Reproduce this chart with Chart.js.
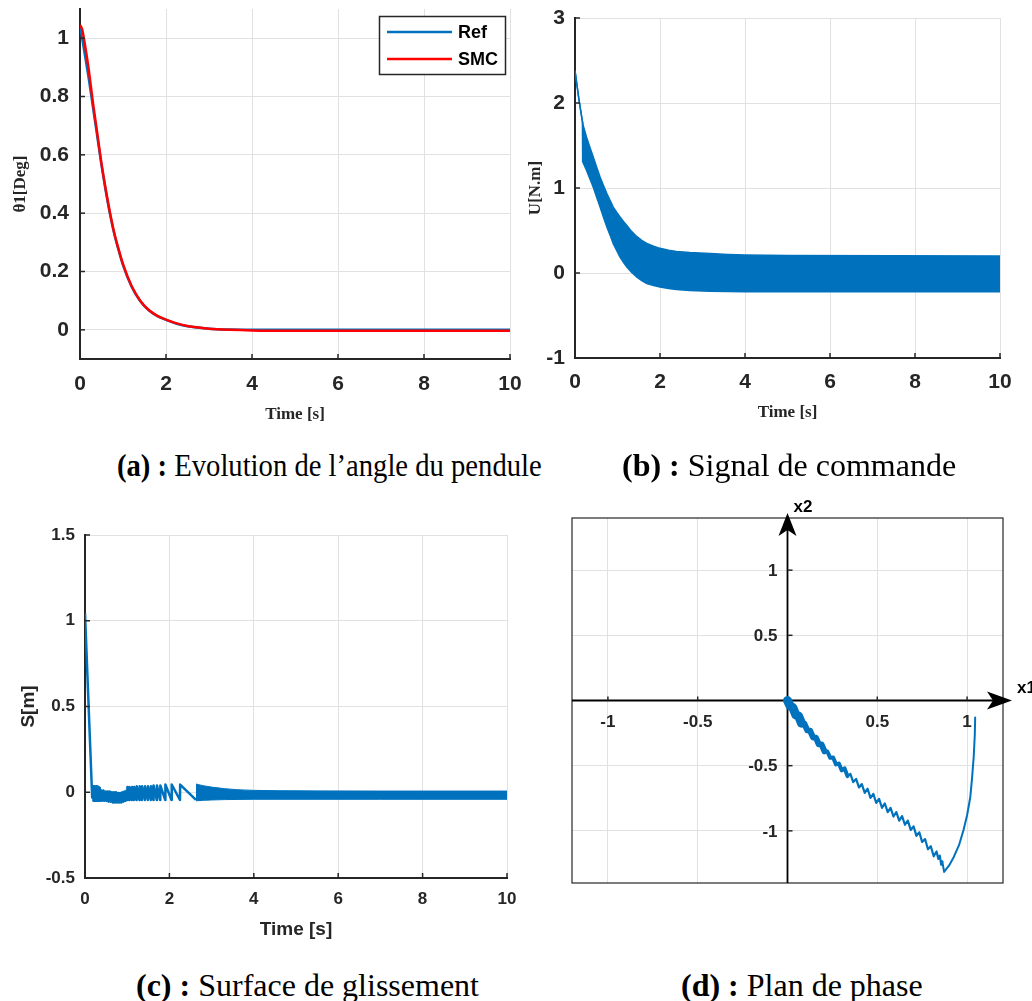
<!DOCTYPE html>
<html>
<head>
<meta charset="utf-8">
<script src="https://cdn.jsdelivr.net/npm/chart.js@4.4.1/dist/chart.umd.min.js"></script>
<style>
html,body{margin:0;padding:0;background:#fff;}
#wrap{position:relative;width:1032px;height:1001px;overflow:hidden;background:#fff;}
canvas{position:absolute;}
.cap{position:absolute;font-family:"Liberation Serif","Times New Roman",serif;font-size:32px;line-height:32px;color:#000;white-space:nowrap;transform-origin:left center;}
.cap b{font-weight:bold;}
</style>
</head>
<body>
<div id="wrap">
<canvas id="ca" width="524" height="435" style="left:0;top:0"></canvas>
<canvas id="cb" width="512" height="435" style="left:520px;top:0"></canvas>
<canvas id="cc" width="524" height="450" style="left:0;top:500px"></canvas>
<canvas id="cd" width="512" height="410" style="left:520px;top:490px"></canvas>
<div class="cap" style="left:117px;top:449px;transform:scaleX(0.895)"><b>(a) :</b> Evolution de l’angle du pendule</div>
<div class="cap" style="left:622px;top:449px"><b>(b) :</b> Signal de commande</div>
<div class="cap" style="left:136px;top:969px"><b>(c) :</b> Surface de glissement</div>
<div class="cap" style="left:681px;top:969px"><b>(d) :</b> Plan de phase</div>
</div>
<script>
// ---------- data ----------
const timeTicks = [0, 2, 4, 6, 8, 10];
const seriesNames = ['Ref', 'SMC'];

// (a) pendulum angle
const thetaTime = [0, 0.05, 0.1, 0.15, 0.2, 0.3, 0.4, 0.5, 0.6, 0.7, 0.8, 0.9, 1.0, 1.2, 1.4, 1.6, 1.8, 2.0, 2.25, 2.5, 3.0, 3.5, 4, 5, 6, 7, 8, 9, 10];
const thetaRef = [1.045, 1.0, 0.955, 0.91, 0.865, 0.765, 0.665, 0.565, 0.475, 0.395, 0.327, 0.272, 0.222, 0.148, 0.099, 0.067, 0.047, 0.034, 0.021, 0.012, 0.004, 0.001, 0, 0, 0, 0, 0, 0, 0];
const thetaSMC = [1.045, 1.03, 0.99, 0.945, 0.895, 0.78, 0.675, 0.57, 0.48, 0.40, 0.33, 0.275, 0.225, 0.15, 0.10, 0.068, 0.048, 0.035, 0.022, 0.013, 0.004, 0.0, -0.002, -0.003, -0.003, -0.003, -0.003, -0.003, -0.003];
const thetaTicks = [0, 0.2, 0.4, 0.6, 0.8, 1];

// (b) control signal (envelope of the chattering band)
const uTime  = [0, 0.09, 0.175, 0.18, 0.27, 0.35, 0.43, 0.51, 0.59, 0.67, 0.75, 0.83, 0.9, 0.98, 1.06, 1.14, 1.22, 1.33, 1.45, 1.57, 1.69, 1.85, 2.0, 2.2, 2.39, 2.7, 3.18, 3.6, 4.0, 5, 10];
const uUpper = [2.38, 2.05, 1.78, 1.76, 1.6, 1.48, 1.365, 1.245, 1.13, 1.03, 0.934, 0.85, 0.776, 0.715, 0.659, 0.607, 0.56, 0.49, 0.43, 0.383, 0.348, 0.315, 0.29, 0.268, 0.253, 0.24, 0.228, 0.218, 0.212, 0.205, 0.2];
const uLower = [2.38, 2.05, 1.78, 1.31, 1.208, 1.11, 1.01, 0.89, 0.776, 0.655, 0.54, 0.44, 0.346, 0.265, 0.188, 0.125, 0.07, 0.01, -0.047, -0.09, -0.125, -0.148, -0.165, -0.182, -0.195, -0.205, -0.215, -0.218, -0.22, -0.222, -0.222];
const uTicks = [-1, 0, 1, 2, 3];

// (c) sliding surface
const sTime = [0, 0.17, 0.19, 0.2, 0.23, 0.24, 0.27, 0.28, 0.31, 0.32, 0.35, 0.36, 0.385, 0.41, 0.435, 0.46, 0.485, 0.51, 0.535, 0.56, 0.585, 0.61, 0.635, 0.66, 0.685, 0.71, 0.735, 0.76, 0.785, 0.81, 0.835, 0.86, 0.885, 0.91, 0.935, 0.96, 0.985, 1.0, 1.005, 1.05, 1.055, 1.11, 1.115, 1.16, 1.165, 1.22, 1.225, 1.29, 1.295, 1.35, 1.355, 1.42, 1.425, 1.49, 1.495, 1.56, 1.565, 1.62, 1.625, 1.7, 1.705, 1.78, 1.785, 1.9, 1.905, 2.05, 2.055, 2.25, 2.255, 2.63];
const sValue = [1.045, -0.03, 0.035, -0.05, 0.035, -0.05, 0.035, -0.05, 0.03, -0.05, 0.025, -0.05, 0.01, -0.05, 0.01, -0.05, 0.005, -0.05, 0.005, -0.055, 0.005, -0.055, 0.0, -0.06, 0.0, -0.06, 0.0, -0.06, -0.005, -0.06, -0.005, -0.06, 0.0, -0.055, 0.005, -0.05, 0.01, -0.045, 0.03, -0.045, 0.03, -0.045, 0.03, -0.045, 0.03, -0.045, 0.035, -0.045, 0.035, -0.045, 0.035, -0.045, 0.035, -0.045, 0.035, -0.045, 0.035, -0.045, 0.04, -0.045, 0.04, -0.045, 0.04, -0.045, 0.045, -0.045, 0.045, -0.045, 0.045, -0.045];
const sBandTime  = [2.63, 2.8, 3.0, 3.3, 3.6, 4.0, 4.6, 5.5, 7, 10];
const sBandUpper = [0.048, 0.038, 0.03, 0.021, 0.015, 0.011, 0.009, 0.008, 0.007, 0.007];
const sBandLower = [-0.05, -0.047, -0.045, -0.043, -0.042, -0.041, -0.041, -0.041, -0.041, -0.041];
const sTicks = [-0.5, 0, 0.5, 1, 1.5];

// (d) phase plane
const phaseX1 = [1.045, 1.043, 1.037, 1.028, 1.018, 1.0, 0.981, 0.955, 0.926, 0.9, 0.872,
  0.862, 0.856, 0.848, 0.840, 0.83, 0.814, 0.798, 0.782, 0.766, 0.75, 0.734, 0.718, 0.702, 0.686, 0.67, 0.654, 0.638, 0.622, 0.606, 0.59,
  0.574, 0.558, 0.542, 0.526, 0.51, 0.494, 0.478, 0.462, 0.446, 0.43, 0.414, 0.398, 0.382, 0.366, 0.35, 0.334, 0.318, 0.302,
  0.286, 0.27, 0.254, 0.238, 0.222, 0.206, 0.19, 0.174, 0.158, 0.142, 0.126, 0.11, 0.094, 0.078, 0.062, 0.046, 0.03, 0.014, 0];
const phaseX2 = [-0.13, -0.26, -0.43, -0.59, -0.74, -0.88, -0.99, -1.11, -1.2, -1.265, -1.315,
  -1.235, -1.26, -1.19, -1.215, -1.158, -1.195, -1.118, -1.141, -1.063, -1.086, -1.011, -1.038, -0.966, -0.993, -0.921, -0.953, -0.887, -0.921, -0.856, -0.89,
  -0.823, -0.857, -0.79, -0.823, -0.755, -0.786, -0.716, -0.747, -0.677, -0.708, -0.641, -0.667, -0.602, -0.626, -0.563, -0.58, -0.521, -0.536,
  -0.484, -0.49, -0.437, -0.44, -0.391, -0.39, -0.338, -0.336, -0.285, -0.283, -0.232, -0.228, -0.178, -0.174, -0.12, -0.11, -0.055, -0.04, 0];
const phaseTicks = [-1, -0.5, 0, 0.5, 1];
const phaseAxisNames = ['x1', 'x2'];

// axis ranges
const timeRange = [0, 10];
const thetaRange = [-0.1, 1.1];
const uRange = [-1, 3];
const sRange = [-0.5, 1.5];
const x1Range = [-1.2, 1.2];
const x2Range = [-1.4, 1.4];

// ---------- styling ----------
const blue = '#0072BD';
const red = '#FF0000';
const axisColor = '#262626';
const gridColor = '#e1e1e1';
const sans = '"Liberation Sans", Arial, sans-serif';
const serif = '"Liberation Serif", "Times New Roman", serif';
Chart.defaults.font.family = sans;

const pts = (xs, ys) => xs.map((x, i) => ({x: x, y: ys[i]}));

function cartScale(o) {
  return {
    type: 'linear', min: o.range[0], max: o.range[1],
    afterBuildTicks: s => { s.ticks = o.ticks.map(v => ({value: v})); },
    afterFit: s => {
      if (o.isX) s.height = o.size; else s.width = o.size;
      s.paddingLeft = 0; s.paddingRight = 0; s.paddingTop = 0; s.paddingBottom = 0;
    },
    grid: {color: gridColor, lineWidth: 1, drawTicks: false},
    border: {display: true, color: axisColor, width: 2},
    ticks: {autoSkip: false, maxRotation: 0, padding: o.tickPad, color: axisColor,
      font: o.tickFont, callback: v => String(v)},
    title: {display: true, text: o.title, color: axisColor, font: o.titleFont, padding: o.titlePad}
  };
}

const inwardTicks = {
  id: 'inwardTicks',
  afterDraw(chart) {
    const {ctx, chartArea: a} = chart;
    const x = chart.scales.x, y = chart.scales.y;
    ctx.save();
    ctx.strokeStyle = axisColor; ctx.lineWidth = 1.5;
    x.ticks.forEach(t => { const p = x.getPixelForValue(t.value); ctx.beginPath(); ctx.moveTo(p, a.bottom); ctx.lineTo(p, a.bottom - 5); ctx.stroke(); });
    y.ticks.forEach(t => { const p = y.getPixelForValue(t.value); ctx.beginPath(); ctx.moveTo(a.left, p); ctx.lineTo(a.left + 5, p); ctx.stroke(); });
    ctx.restore();
  }
};

const legendA = {
  id: 'legendA',
  afterDraw(chart) {
    const ctx = chart.ctx, a = chart.chartArea;
    const bx = a.right - 131, by = a.top + 7, bw = 127, bh = 59;
    ctx.save();
    ctx.fillStyle = '#fff'; ctx.fillRect(bx, by, bw, bh);
    ctx.strokeStyle = axisColor; ctx.lineWidth = 1.5; ctx.strokeRect(bx + 0.5, by + 0.5, bw - 1, bh - 1);
    chart.data.datasets.forEach((ds, i) => {
      const yy = by + 16 + i * 27;
      ctx.strokeStyle = ds.borderColor; ctx.lineWidth = 2.5;
      ctx.beginPath(); ctx.moveTo(bx + 8, yy); ctx.lineTo(bx + 73, yy); ctx.stroke();
      ctx.fillStyle = '#000'; ctx.font = 'bold 18px ' + sans; ctx.textBaseline = 'middle'; ctx.textAlign = 'left';
      ctx.fillText(ds.label, bx + 79, yy + 1);
    });
    ctx.restore();
  }
};

const baseOpts = {responsive: false, animation: false, devicePixelRatio: 1, events: [],
  plugins: {legend: {display: false}, tooltip: {enabled: false}}};

// ---------- (a) ----------
new Chart(document.getElementById('ca'), {
  type: 'line',
  data: {datasets: [
    {label: seriesNames[0], data: pts(thetaTime, thetaRef), borderColor: blue, borderWidth: 2.5, pointRadius: 0, fill: false, cubicInterpolationMode: 'monotone', order: 2},
    {label: seriesNames[1], data: pts(thetaTime, thetaSMC), borderColor: red, borderWidth: 2.5, pointRadius: 0, fill: false, cubicInterpolationMode: 'monotone', order: 1}
  ]},
  options: Object.assign({}, baseOpts, {
    layout: {padding: {left: 0, top: 9, right: 14, bottom: 0}},
    scales: {
      x: cartScale({range: timeRange, ticks: timeTicks, isX: true, size: 76, tickPad: 13,
        tickFont: {family: sans, size: 21, weight: 'bold'}, title: 'Time [s]',
        titleFont: {family: serif, size: 17, weight: 'bold'}, titlePad: {top: 0, bottom: 10}}),
      y: cartScale({range: thetaRange, ticks: thetaTicks, isX: false, size: 80, tickPad: 11,
        tickFont: {family: sans, size: 21, weight: 'bold'}, title: 'θ1[Deg]',
        titleFont: {family: serif, size: 17, weight: 'bold'}, titlePad: {top: 10, bottom: 0}})
    }
  }),
  plugins: [inwardTicks, legendA]
});

// ---------- (b) ----------
new Chart(document.getElementById('cb'), {
  type: 'line',
  data: {datasets: [
    {label: 'U+', data: pts(uTime, uUpper), borderColor: blue, borderWidth: 1.5, pointRadius: 0, fill: false, tension: 0},
    {label: 'U-', data: pts(uTime, uLower), borderColor: blue, borderWidth: 1.5, pointRadius: 0, fill: '-1', backgroundColor: blue, tension: 0}
  ]},
  options: Object.assign({}, baseOpts, {
    layout: {padding: {left: 0, top: 18, right: 32, bottom: 0}},
    scales: {
      x: cartScale({range: timeRange, ticks: timeTicks, isX: true, size: 77, tickPad: 12,
        tickFont: {family: sans, size: 21, weight: 'bold'}, title: 'Time [s]',
        titleFont: {family: serif, size: 17, weight: 'bold'}, titlePad: {top: 0, bottom: 12}}),
      y: cartScale({range: uRange, ticks: uTicks, isX: false, size: 55, tickPad: 10,
        tickFont: {family: sans, size: 21, weight: 'bold'}, title: 'U[N.m]',
        titleFont: {family: serif, size: 17, weight: 'bold'}, titlePad: {top: 5, bottom: 0}})
    }
  }),
  plugins: [inwardTicks]
});

// ---------- (c) ----------
new Chart(document.getElementById('cc'), {
  type: 'line',
  data: {datasets: [
    {label: 'S', data: pts(sTime, sValue), borderColor: blue, borderWidth: 2.5, borderJoinStyle: 'round', pointRadius: 0, fill: false, tension: 0},
    {label: 'S+', data: pts(sBandTime, sBandUpper), borderColor: blue, borderWidth: 1, pointRadius: 0, fill: false, cubicInterpolationMode: 'monotone'},
    {label: 'S-', data: pts(sBandTime, sBandLower), borderColor: blue, borderWidth: 1, pointRadius: 0, fill: '-1', backgroundColor: blue, cubicInterpolationMode: 'monotone'}
  ]},
  options: Object.assign({}, baseOpts, {
    layout: {padding: {left: 0, top: 35, right: 17, bottom: 0}},
    scales: {
      x: cartScale({range: timeRange, ticks: timeTicks, isX: true, size: 72, tickPad: 11,
        tickFont: {family: sans, size: 17, weight: 'bold'}, title: 'Time [s]',
        titleFont: {family: sans, size: 19, weight: 'bold'}, titlePad: {top: 0, bottom: 9}}),
      y: cartScale({range: sRange, ticks: sTicks, isX: false, size: 85, tickPad: 10,
        tickFont: {family: sans, size: 17, weight: 'bold'}, title: 'S[m]',
        titleFont: {family: sans, size: 19, weight: 'bold'}, titlePad: {top: 17, bottom: 0}})
    }
  }),
  plugins: [inwardTicks]
});

// ---------- (d) ----------
const phaseAxes = {
  id: 'phaseAxes',
  beforeDatasetsDraw(chart) {
    const ctx = chart.ctx, a = chart.chartArea;
    const xs = chart.scales.x, ys = chart.scales.y;
    const x0 = xs.getPixelForValue(0), y0 = ys.getPixelForValue(0);
    ctx.save();
    ctx.strokeStyle = axisColor; ctx.lineWidth = 1.2;
    ctx.strokeRect(a.left, a.top, a.right - a.left, a.bottom - a.top);
    ctx.strokeStyle = '#000'; ctx.lineWidth = 1.8;
    ctx.beginPath(); ctx.moveTo(a.left, y0); ctx.lineTo(a.right + 2, y0); ctx.stroke();
    ctx.beginPath(); ctx.moveTo(x0, a.bottom); ctx.lineTo(x0, a.top + 6); ctx.stroke();
    ctx.fillStyle = '#000';
    const tx = a.right + 9;
    ctx.beginPath(); ctx.moveTo(tx, y0); ctx.lineTo(tx - 25, y0 - 9); ctx.lineTo(tx - 19, y0); ctx.lineTo(tx - 25, y0 + 9); ctx.closePath(); ctx.fill();
    const ty = a.top - 5;
    ctx.beginPath(); ctx.moveTo(x0, ty); ctx.lineTo(x0 - 9, ty + 23); ctx.lineTo(x0, ty + 17); ctx.lineTo(x0 + 9, ty + 23); ctx.closePath(); ctx.fill();
    ctx.strokeStyle = axisColor; ctx.lineWidth = 1.5;
    xs.ticks.forEach(t => { if (t.value === 0) return; const p = xs.getPixelForValue(t.value); ctx.beginPath(); ctx.moveTo(p, y0); ctx.lineTo(p, y0 - 4); ctx.stroke(); });
    ys.ticks.forEach(t => { if (t.value === 0) return; const p = ys.getPixelForValue(t.value); ctx.beginPath(); ctx.moveTo(x0, p); ctx.lineTo(x0 + 5, p); ctx.stroke(); });
    ctx.fillStyle = axisColor; ctx.font = 'bold 17px ' + sans;
    ctx.textAlign = 'center'; ctx.textBaseline = 'middle';
    xs.ticks.forEach(t => { if (t.value === 0) return; ctx.fillText(String(t.value), xs.getPixelForValue(t.value), y0 + 22); });
    ctx.textAlign = 'right';
    ys.ticks.forEach(t => { if (t.value === 0) return; ctx.fillText(String(t.value), x0 - 10, ys.getPixelForValue(t.value) + 1); });
    ctx.fillStyle = '#000'; ctx.textAlign = 'left';
    ctx.fillText(phaseAxisNames[0], a.right + 14, y0 - 12);
    ctx.fillText(phaseAxisNames[1], x0 + 6, a.top - 11);
    ctx.restore();
  }
};

const phaseWidth = ctx => {
  const m = Math.min(ctx.p0.parsed.x, ctx.p1.parsed.x);
  if (ctx.p0DataIndex < 11) return 2;
  if (m < 0.07) return 9;
  if (m < 0.2) return 6;
  if (m < 0.33) return 4;
  return 2.2;
};

new Chart(document.getElementById('cd'), {
  type: 'scatter',
  data: {datasets: [
    {label: 'phase', data: pts(phaseX1, phaseX2), showLine: true, borderColor: blue, borderWidth: 2,
     borderJoinStyle: 'round', borderCapStyle: 'round', pointRadius: 0, fill: false, tension: 0,
     segment: {borderWidth: phaseWidth}}
  ]},
  options: Object.assign({}, baseOpts, {
    layout: {padding: {left: 52, top: 28, right: 29, bottom: 17}},
    scales: {
      x: {type: 'linear', min: x1Range[0], max: x1Range[1],
        afterBuildTicks: s => { s.ticks = phaseTicks.map(v => ({value: v})); },
        afterFit: s => { s.height = 0; s.paddingLeft = s.paddingRight = s.paddingTop = s.paddingBottom = 0; },
        grid: {color: gridColor, lineWidth: 1, drawTicks: false}, border: {display: false},
        ticks: {display: false}},
      y: {type: 'linear', min: x2Range[0], max: x2Range[1],
        afterBuildTicks: s => { s.ticks = phaseTicks.map(v => ({value: v})); },
        afterFit: s => { s.width = 0; s.paddingLeft = s.paddingRight = s.paddingTop = s.paddingBottom = 0; },
        grid: {color: gridColor, lineWidth: 1, drawTicks: false}, border: {display: false},
        ticks: {display: false}}
    }
  }),
  plugins: [phaseAxes]
});
</script>
</body>
</html>
